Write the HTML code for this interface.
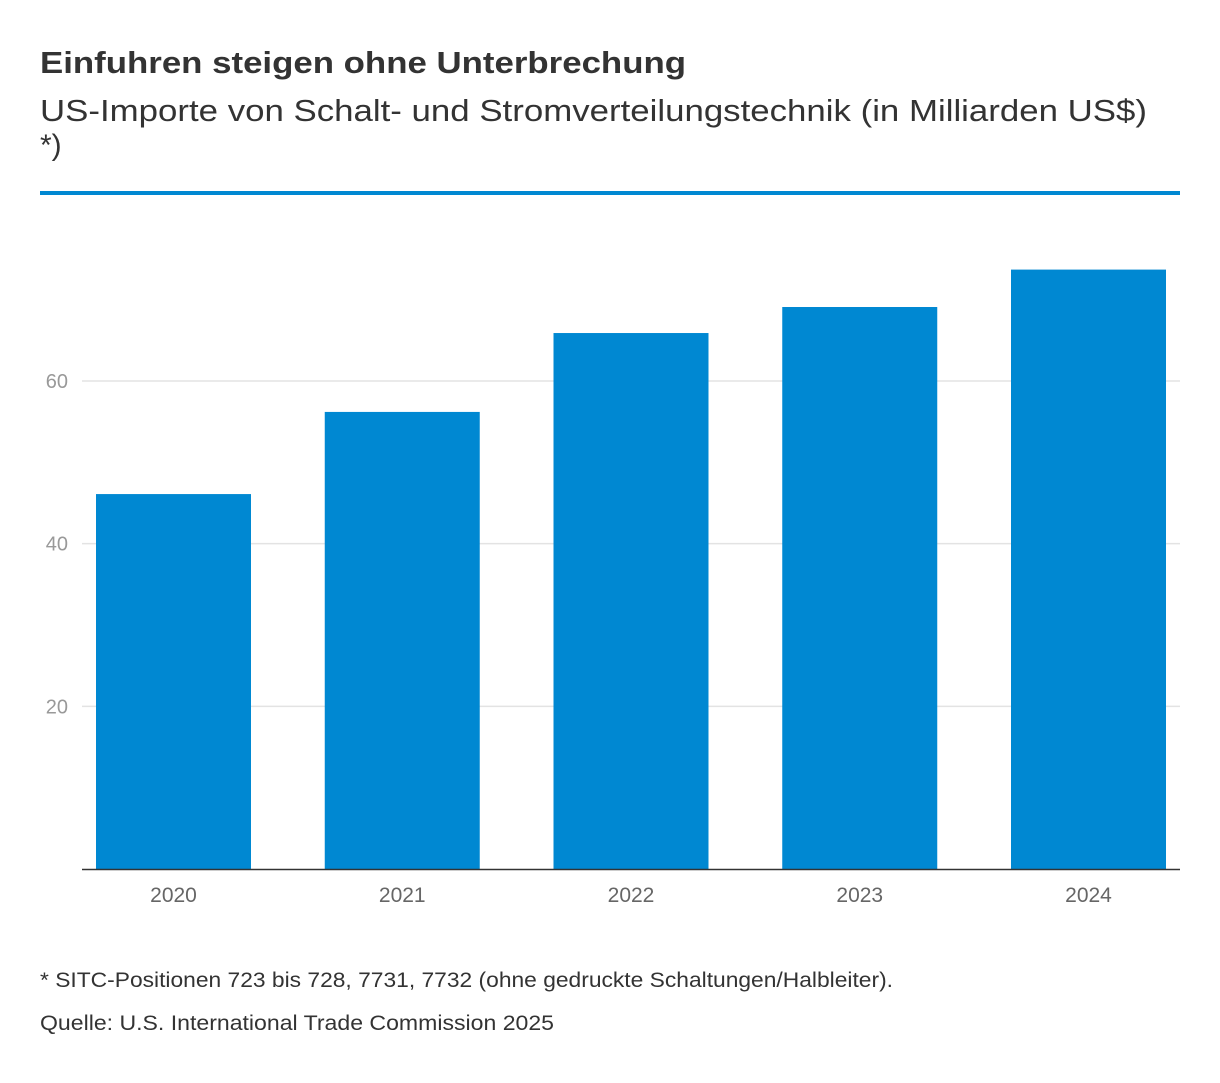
<!DOCTYPE html>
<html><head><meta charset="utf-8"><style>
body{margin:0;background:#fff;font-family:"Liberation Sans",sans-serif;}
</style></head><body>
<svg width="1220" height="1078" xmlns="http://www.w3.org/2000/svg">
<text x="40" y="73" font-size="31" font-weight="bold" fill="#333" textLength="646" lengthAdjust="spacingAndGlyphs">Einfuhren steigen ohne Unterbrechung</text>
<text x="40" y="121" font-size="31" fill="#333" textLength="1107" lengthAdjust="spacingAndGlyphs">US-Importe von Schalt- und Stromverteilungstechnik (in Milliarden US$)</text>
<text x="40" y="155" font-size="30" fill="#333">*)</text>
<rect x="40" y="191" width="1140" height="4" fill="#0088d2"/>
<g id="grid"></g>
<g id="bars"></g>
<line x1="82" x2="1180" y1="869.5" y2="869.5" stroke="#333" stroke-width="1.5"/>
<g id="labels"></g>
<text x="40" y="987" font-size="21" fill="#333" textLength="853" lengthAdjust="spacingAndGlyphs">* SITC-Positionen 723 bis 728, 7731, 7732 (ohne gedruckte Schaltungen/Halbleiter).</text>
<text x="40" y="1030" font-size="21" fill="#333" textLength="514" lengthAdjust="spacingAndGlyphs">Quelle: U.S. International Trade Commission 2025</text>
</svg>
<script>
const categories=["2020","2021","2022","2023","2024"];
const values=[46.1,56.2,65.9,69.1,73.7];
const yTicks=[20,40,60];
const NS="http://www.w3.org/2000/svg";
const y=v=>869-v*8.133;
const xc=i=>173.5+i*228.75;
const grid=document.getElementById('grid'),bars=document.getElementById('bars'),labels=document.getElementById('labels');
yTicks.forEach(t=>{
 const l=document.createElementNS(NS,'line');
 l.setAttribute('x1',82);l.setAttribute('x2',1180);l.setAttribute('y1',y(t));l.setAttribute('y2',y(t));
 l.setAttribute('stroke','#e3e3e3');l.setAttribute('stroke-width','1.5');
 
 
 grid.appendChild(l);
 const tx=document.createElementNS(NS,'text');
 tx.setAttribute('x',68);tx.setAttribute('y',y(t)+7);tx.setAttribute('text-anchor','end');
 tx.setAttribute('font-size','20');tx.setAttribute('fill','#999');tx.textContent=t;
 
 
 grid.appendChild(tx);
});
categories.forEach((c,i)=>{
 const r=document.createElementNS(NS,'rect');
 r.setAttribute('x',xc(i)-77.5);r.setAttribute('width',155);
 r.setAttribute('y',y(values[i]));r.setAttribute('height',869-y(values[i]));
 r.setAttribute('fill','#0088d2');
 
 
 bars.appendChild(r);
 const tx=document.createElementNS(NS,'text');
 tx.setAttribute('x',xc(i));tx.setAttribute('y',902);tx.setAttribute('text-anchor','middle');
 tx.setAttribute('font-size','21');tx.setAttribute('fill','#666');tx.textContent=c;
 
 
 labels.appendChild(tx);
});
</script>
</body></html>
